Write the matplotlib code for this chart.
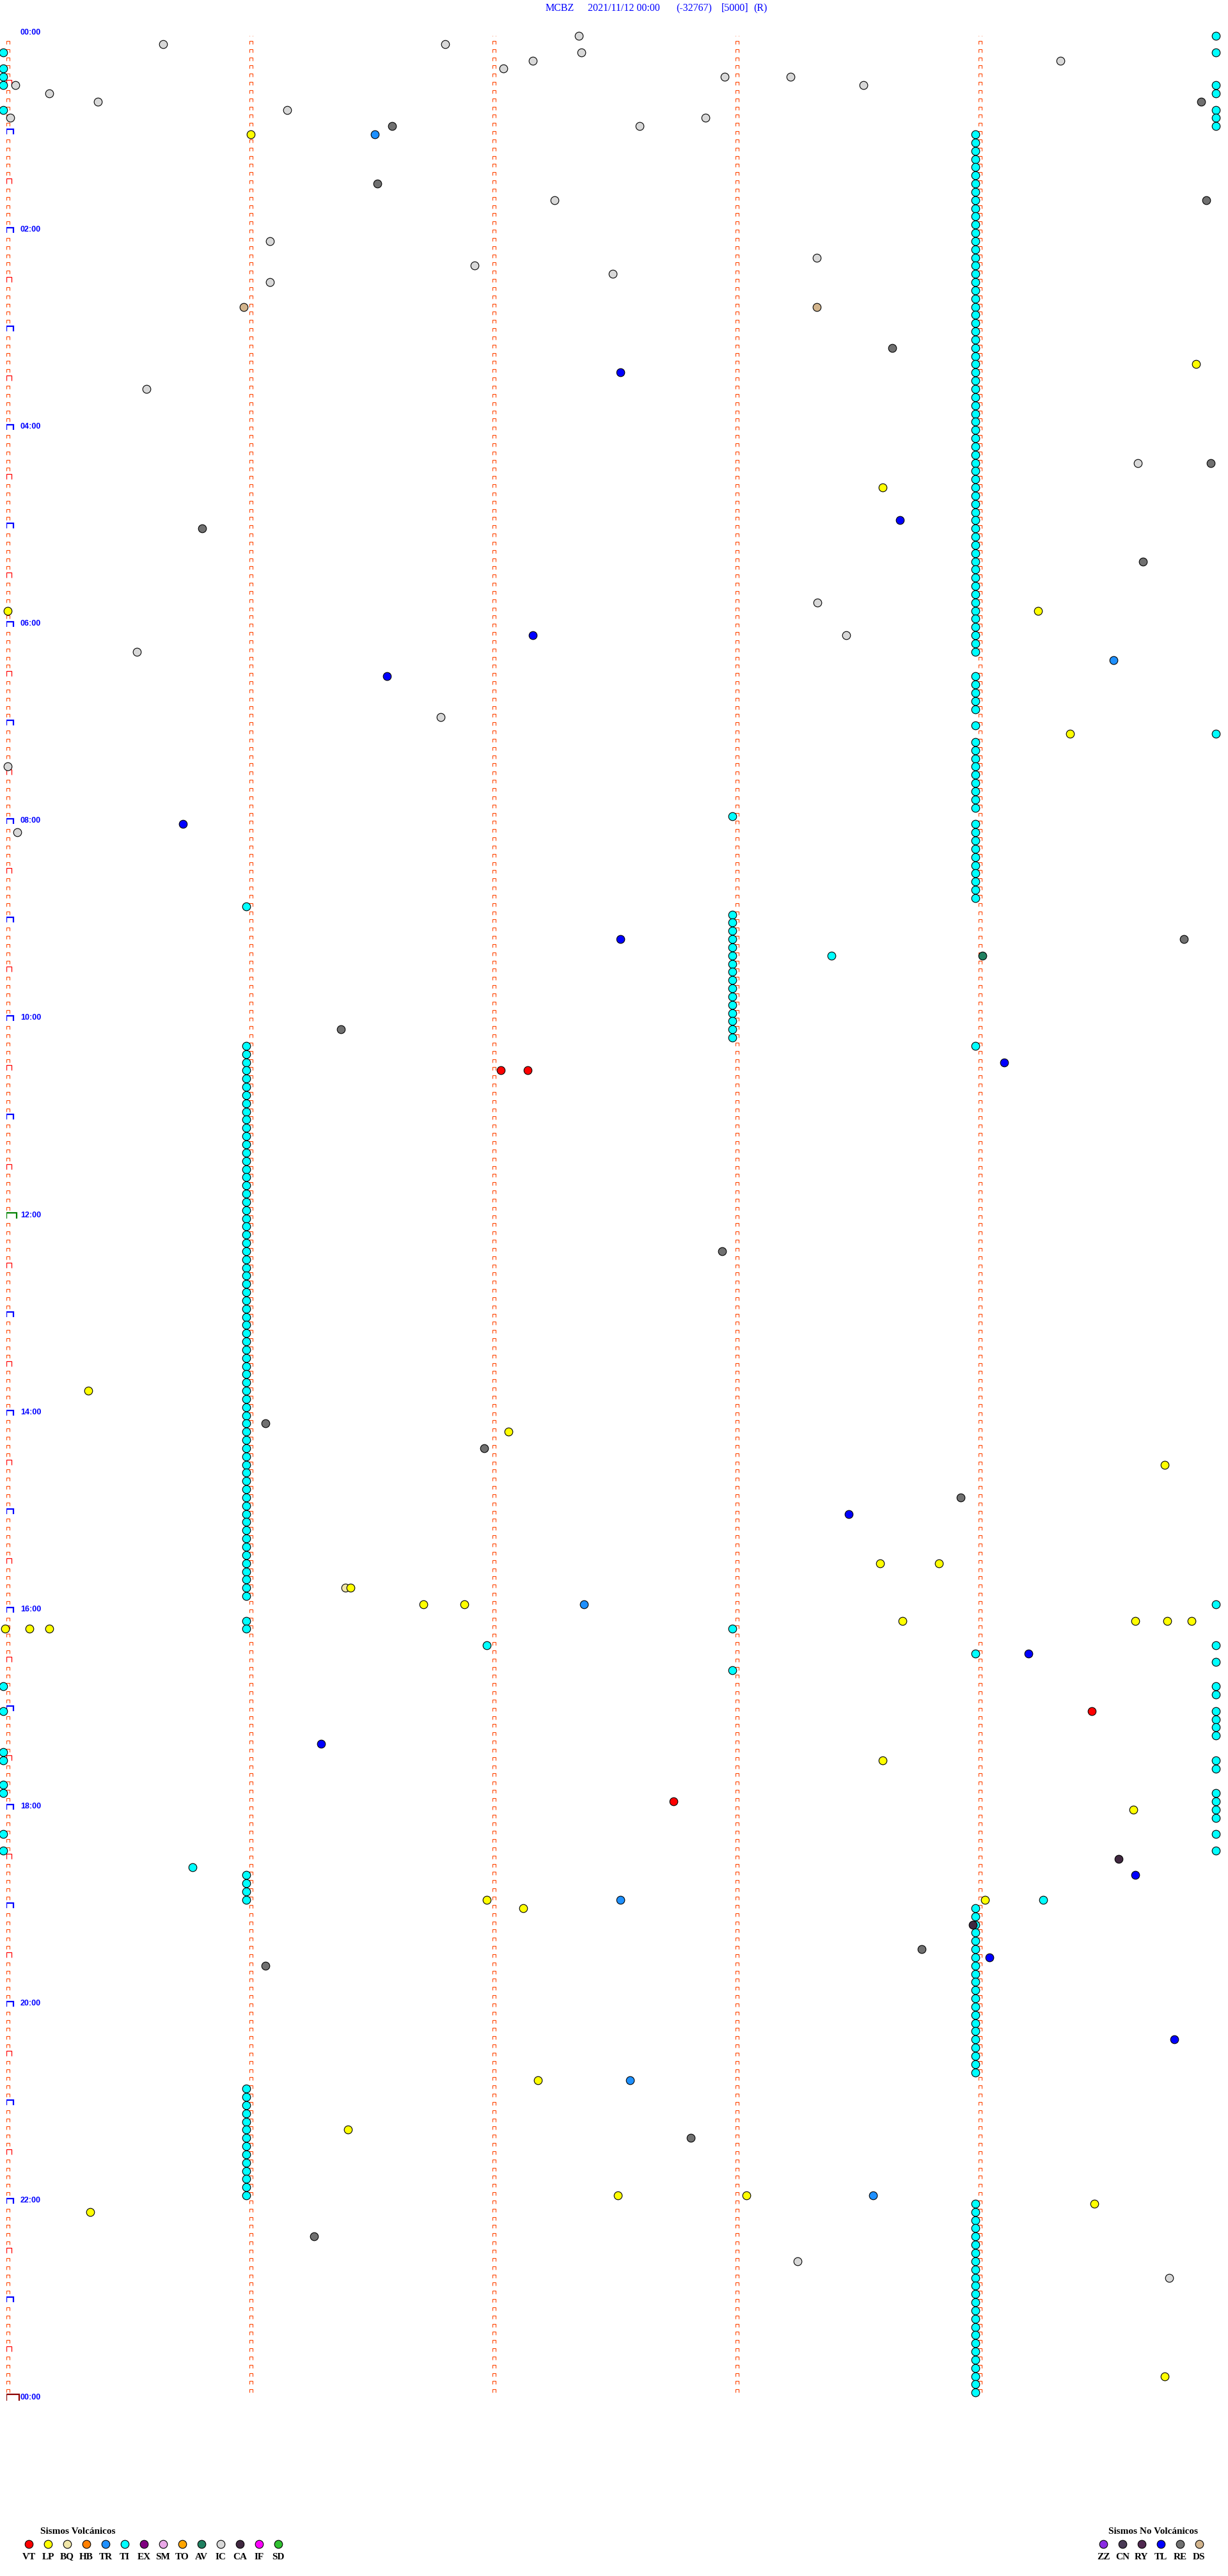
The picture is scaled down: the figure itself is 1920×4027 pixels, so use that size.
"""MCBZ helicorder-style event chart, 2021/11/12 — 1920x4027px"""
import numpy as np
import matplotlib
matplotlib.use("Agg")
import matplotlib.pyplot as plt
from matplotlib.collections import LineCollection
from matplotlib.transforms import ScaledTranslation

W_PX, H_PX, DPI = 1920, 4027, 100
ROW_MIN = 5          # minutes per line
N_ROWS = 288         # 24 h of 5-minute lines

# ── Event data: time of day in minutes, one list per class ───────────────────
vt_times = [632.05, 632.16, 1024.48, 1077.76]
lp_times = [61.02, 204.91, 278.62, 350.02, 354.26, 429.39, 825.35, 852.08,
            874.78, 933.61, 933.85, 946.43, 956.73, 956.90, 968.70, 969.66,
            969.79, 969.89, 970.01, 970.11, 970.19, 1053.62, 1084.65,
            1136.99, 1139.04, 1142.14, 1247.20, 1276.42, 1317.53, 1318.06,
            1324.49, 1325.36, 1429.78]
bq_times = [946.41]
tr_times = [61.53, 384.57, 957.39, 1137.54, 1247.58, 1318.58]
av_times = [564.03]
ic_times = [2.37, 5.66, 6.82, 12.38, 17.18, 19.35, 22.06, 27.97, 28.24,
            30.05, 33.54, 35.19, 40.39, 46.17, 50.03, 52.89, 57.62, 102.27,
            126.10, 138.35, 141.94, 147.51, 151.10, 215.59, 264.67, 348.35,
            368.47, 375.55, 416.80, 445.02, 485.06, 1358.27, 1369.80]
ca_times = [1114.59, 1153.99]
tl_times = [207.54, 298.69, 367.18, 391.58, 480.74, 552.54, 629.12, 903.48,
            989.22, 1041.31, 1124.66, 1174.06, 1224.82]
re_times = [44.93, 56.60, 91.54, 104.95, 193.66, 264.97, 300.82, 324.69,
            554.86, 606.39, 742.96, 846.08, 861.98, 893.94, 1168.78, 1176.08,
            1282.83, 1341.28]
ds_times = [165.99, 168.35]
ti_times = [
    4.99, 10.0, 14.99, 20.0, 25.0, 30.0, 34.99, 39.99, 45.0, 49.99, 54.99,
    59.99,
    64, 69, 74, 79, 84, 89, 94, 99, 104, 109, 114, 119, 124, 129, 134, 139,
    144, 149, 154, 159, 164, 169, 174, 179, 184, 189, 194, 199, 204, 209,
    214, 219, 224, 229, 234, 239, 244, 249, 254, 259, 264, 269, 274, 279,
    284, 289, 294, 299, 304, 309, 314, 319, 324, 329, 334, 339, 344, 349,
    354, 359, 364, 369, 374, 379,
    394, 399, 404, 409, 414, 424, 429.99, 434, 439, 444, 449, 454, 459, 464,
    469, 474, 478, 484, 489, 494, 499, 504, 509, 514, 519, 524, 529,
    531, 538, 543, 548, 553, 558, 563, 563.41, 568, 573, 578, 583, 588, 593,
    598, 603, 608, 613, 619,
    616, 621, 626, 631, 636, 641, 646, 651, 656, 661, 666, 671, 676, 681,
    686, 691, 696, 701, 706, 711, 716, 721, 726, 731, 736, 741, 746, 751,
    756, 761, 766, 771, 776, 781, 786, 791, 796, 801, 806, 811, 816, 821,
    826, 831, 836, 841, 846, 851, 856, 861, 866, 871, 876, 881, 886, 891,
    896, 901, 906, 911, 916, 921, 926, 931, 936, 941, 946, 951,
    959.99, 966, 971, 973, 981.99, 984.99, 989, 994.99, 998, 1005.0, 1009.99,
    1014.99, 1020.0, 1024.99, 1029.99, 1034.99, 1039.99, 1045.0, 1050.0,
    1054.99, 1059.99, 1065.0, 1070.0, 1074.99, 1079.99, 1084.99, 1089.99,
    1095.0, 1099.99, 1105.0, 1109.99, 1115.78, 1121, 1126, 1131, 1136,
    1139.28,
    1144, 1149, 1154, 1159, 1164, 1169, 1174, 1179, 1184, 1189, 1194, 1199,
    1204, 1209, 1214, 1219, 1224, 1229, 1234, 1239, 1244,
    1251, 1256, 1261, 1266, 1271, 1276, 1281, 1286, 1291, 1296, 1301, 1306,
    1311, 1316,
    1324, 1329, 1334, 1339, 1344, 1349, 1354, 1359, 1364, 1369, 1374, 1379,
    1384, 1389, 1394, 1399, 1404, 1409, 1414, 1419, 1424, 1429, 1434, 1439]

volc_codes = ["VT", "LP", "BQ", "HB", "TR", "TI", "EX", "SM", "TO", "AV",
              "IC", "CA", "IF", "SD"]
novolc_codes = ["ZZ", "CN", "RY", "TL", "RE", "DS"]

COLORS = {
    "VT": "#ff0000", "LP": "#ffff00", "BQ": "#f0e6a8", "HB": "#ff8000",
    "TR": "#1e90ff", "TI": "#00ffff", "EX": "#800080", "SM": "#eaa8e8",
    "TO": "#ffa500", "AV": "#208060", "IC": "#d8d8d8", "CA": "#402840",
    "IF": "#ff00ff", "SD": "#30c030",
    "ZZ": "#8a2be2", "CN": "#4a3a55", "RY": "#502850", "TL": "#0000ff",
    "RE": "#707070", "DS": "#d2b48c",
}

events = [("TI", ti_times), ("IC", ic_times), ("RE", re_times),
          ("TL", tl_times), ("TR", tr_times), ("BQ", bq_times),
          ("LP", lp_times), ("DS", ds_times), ("VT", vt_times),
          ("AV", av_times), ("CA", ca_times)]

# ── Figure & main axes (x = minute within line, y = line index) ──────────────
fig = plt.figure(figsize=(W_PX / DPI, H_PX / DPI), dpi=DPI)
fig.patch.set_facecolor("white")

X0, X1 = 10, 1910            # px of minute 0 and minute 5
ROW_PX = 12.837
Y0 = 56                      # px of first line
Y1 = Y0 + N_ROWS * ROW_PX
ax = fig.add_axes([X0 / W_PX, 1 - Y1 / H_PX, (X1 - X0) / W_PX, (Y1 - Y0) / H_PX])
ax.set_xlim(0, ROW_MIN)
ax.set_ylim(N_ROWS, 0)
ax.axis("off")

px = ROW_MIN / (X1 - X0)     # minutes per pixel
py = 1 / ROW_PX              # lines per pixel


def bracket(c, r, w, h):
    return [(c, r), (c, r - h * py), (c + w * px, r - h * py), (c + w * px, r)]


# minute marks
segs, cols, lws = [], [], []
for r in range(N_ROWS + 1):
    for c in range(ROW_MIN):
        if c == 0 and r % 6 == 0:
            if r % 288 == 0:
                segs.append(bracket(c, r, 20, 10)); cols.append("#8b0000"); lws.append(1.6)
            elif r == 144:
                segs.append(bracket(c, r, 16, 9)); cols.append("#008000"); lws.append(1.6)
            elif r % 12 == 0:
                segs.append(bracket(c, r, 11, 8)); cols.append("#0000ff"); lws.append(1.6)
            else:
                segs.append(bracket(c, r, 8, 8)); cols.append("#ff0000"); lws.append(0.9)
        elif r < N_ROWS:
            segs.append(bracket(c, r, 5, 5)); cols.append("#ff4500"); lws.append(0.8)
ax.add_collection(LineCollection(segs, colors=cols, linewidths=lws,
                                 capstyle="butt", joinstyle="miter", zorder=2))

# hour labels every two hours
lab_tr = ax.transData + ScaledTranslation(22 / DPI, 5 / DPI, fig.dpi_scale_trans)
for r in range(0, N_ROWS + 1, 24):
    hh = (r * ROW_MIN // 60) % 24
    ax.text(0, r, f"{hh:02d}:00", transform=lab_tr, ha="left", va="center",
            fontsize=9, fontweight="bold", color="#0000ff",
            family="Liberation Sans", zorder=5)

# events
ev_tr = ax.transData + ScaledTranslation(-5.5 / DPI, 0, fig.dpi_scale_trans)
for code, times in events:
    t = np.asarray(times, dtype=float)
    row = np.floor(t / ROW_MIN + 1e-9)
    minute = t - row * ROW_MIN
    ax.scatter(minute, row, s=82, color=COLORS[code], edgecolors="black",
               linewidths=0.8, transform=ev_tr, clip_on=False,
               zorder=3 if code == "TI" else 4)

# ── Overlay axes in pixel coordinates for title and legend ───────────────────
pax = fig.add_axes([0, 0, 1, 1], facecolor="none")
pax.set_xlim(0, W_PX)
pax.set_ylim(H_PX, 0)
pax.axis("off")

title_parts = [(853, "MCBZ"), (919, "2021/11/12 00:00"), (1057, "(-32767)"),
               (1128, "[5000]"), (1178, "(R)")]
for x, s in title_parts:
    pax.text(x, 13, s, ha="left", va="center", fontsize=11.5, color="#0000ff",
             family="Liberation Serif")

SERIF = "Liberation Serif"
pax.text(63, 3957, "Sismos Volcánicos", ha="left", va="center", fontsize=11,
         fontweight="bold", family=SERIF, color="black")
pax.text(1733, 3957, "Sismos No Volcánicos", ha="left", va="center",
         fontsize=11, fontweight="bold", family=SERIF, color="black")

for start, codes in [(45, volc_codes), (1725, novolc_codes)]:
    for i, code in enumerate(codes):
        x = start + 30 * i
        pax.scatter([x], [3977], s=82, color=COLORS[code], edgecolors="black",
                    linewidths=0.8, zorder=3)
        pax.text(x, 3997, code, ha="center", va="center", fontsize=11,
                 fontweight="bold", family=SERIF, color="black")

fig.savefig("out.png", dpi=DPI, facecolor="white")
plt.close(fig)
